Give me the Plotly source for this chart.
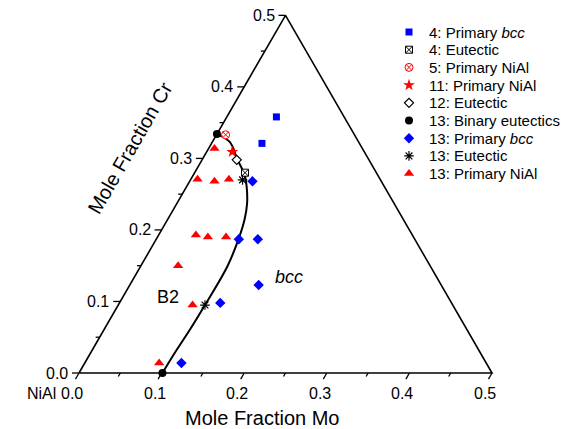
import numpy as np
import plotly.graph_objects as go

# ---------------- data (mole fractions) ----------------
cr_ticks = [0.0, 0.1, 0.2, 0.3, 0.4, 0.5]
cr_minor = [0.05, 0.15, 0.25, 0.35, 0.45]
mo_ticks = [0.0, 0.1, 0.2, 0.3, 0.4, 0.5]
mo_minor = [0.05, 0.15, 0.25, 0.35, 0.45]
tick_labels = ["0.0", "0.1", "0.2", "0.3", "0.4", "0.5"]

# eutectic trough (B2 / bcc boundary)
curve_mo = [0.101, 0.102, 0.104, 0.105, 0.105, 0.099, 0.093, 0.085, 0.073, 0.062, 0.043, 0.021, 0.0]
curve_cr = [0.0, 0.03, 0.06, 0.095, 0.15, 0.19, 0.215, 0.237, 0.26, 0.277, 0.298, 0.323, 0.334]

bcc4_mo = [0.060, 0.061]
bcc4_cr = [0.358, 0.321]
eut4_mo = [0.061]
eut4_cr = [0.280]
nial5_mo = [0.011]
nial5_cr = [0.333]
nial11_mo = [0.031]
nial11_cr = [0.309]
eut12_mo = [0.042]
eut12_cr = [0.298]
bin13_mo = [0.0, 0.101]
bin13_cr = [0.334, 0.0]
bcc13_mo = [0.076, 0.100, 0.123, 0.156, 0.122, 0.117]
bcc13_cr = [0.268, 0.187, 0.187, 0.123, 0.098, 0.014]
eut13_mo = [0.063, 0.105]
eut13_cr = [0.270, 0.095]
nial13_mo = [0.007, 0.008, 0.030, 0.046, 0.045, 0.061, 0.083, 0.045, 0.090, 0.090]
nial13_cr = [0.314, 0.271, 0.268, 0.271, 0.193, 0.190, 0.190, 0.150, 0.095, 0.014]

legend_names = ["4: Primary <i>bcc</i>", "4: Eutectic", "5: Primary NiAl",
                "11: Primary NiAl", "12: Eutectic", "13: Binary eutectics",
                "13: Primary <i>bcc</i>", "13: Eutectic", "13: Primary NiAl"]

# ---------------- styles ----------------
BLUE = "#0000ff"
RED = "#ff0000"
series = [
    dict(mo=bcc4_mo, cr=bcc4_cr, symbol="square", color=BLUE, lc=BLUE, lw=0, size=7),
    dict(mo=eut4_mo, cr=eut4_cr, symbol="square-x", color="white", lc="black", lw=1, size=7),
    dict(mo=nial5_mo, cr=nial5_cr, symbol="circle-x", color="white", lc=RED, lw=1, size=8),
    dict(mo=nial11_mo, cr=nial11_cr, symbol="star", color=RED, lc=RED, lw=0, size=9),
    dict(mo=eut12_mo, cr=eut12_cr, symbol="diamond", color="white", lc="black", lw=1.2, size=7),
    dict(mo=bin13_mo, cr=bin13_cr, symbol="circle", color="black", lc="black", lw=0, size=8),
    dict(mo=bcc13_mo, cr=bcc13_cr, symbol="diamond", color=BLUE, lc=BLUE, lw=0, size=8),
    dict(mo=eut13_mo, cr=eut13_cr, symbol="asterisk-open", color="black", lc="black", lw=1.2, size=8),
    dict(mo=nial13_mo, cr=nial13_cr, symbol="triangle-up", color=RED, lc=RED, lw=0, size=9),
]

S3 = np.sqrt(3) / 2
PXU = 1 / 826.0  # data units per pixel


def tx(mo, cr):
    return np.asarray(mo, float) + np.asarray(cr, float) / 2


def ty(cr):
    return np.asarray(cr, float) * S3


FONT = "Liberation Sans, Arial, sans-serif"
fig = go.Figure()

# triangle frame
fr_mo = [0, 0.5, 0, 0]
fr_cr = [0, 0, 0.5, 0]
fig.add_trace(go.Scatter(x=tx(fr_mo, fr_cr), y=ty(fr_cr), mode="lines",
                         line=dict(color="black", width=1.6), hoverinfo="skip",
                         showlegend=False))

# ticks
tkx, tky = [], []
for vals, L in ((cr_ticks, 7), (cr_minor, 4)):
    for c in vals:
        x0, y0 = float(tx(0, c)), float(ty(c))
        tkx += [x0, x0 - L * PXU, None]
        tky += [y0, y0, None]
for vals, L in ((mo_ticks, 7), (mo_minor, 4)):
    for m in vals:
        x0 = float(tx(m, 0))
        tkx += [x0, x0 - 0.5 * L * PXU, None]
        tky += [0, -S3 * L * PXU, None]
fig.add_trace(go.Scatter(x=tkx, y=tky, mode="lines", line=dict(color="black", width=1.3),
                         hoverinfo="skip", showlegend=False))

# curve
fig.add_trace(go.Scatter(x=tx(curve_mo, curve_cr), y=ty(curve_cr), mode="lines",
                         line=dict(color="black", width=2, shape="spline", smoothing=1.0),
                         hoverinfo="skip", showlegend=False))

# data series + manual legend
for i, (s, name) in enumerate(zip(series, legend_names)):
    mk = dict(symbol=s["symbol"], color=s["color"], size=s["size"],
              line=dict(color=s["lc"], width=s["lw"]))
    fig.add_trace(go.Scatter(x=tx(s["mo"], s["cr"]), y=ty(s["cr"]), mode="markers",
                             marker=mk, name=name, showlegend=False))
    fig.add_trace(go.Scatter(x=[0], y=[i], xaxis="x2", yaxis="y2", mode="markers",
                             marker=mk, showlegend=False, hoverinfo="skip"))
    fig.add_annotation(x=0, y=i, xref="x2", yref="y2", text=name, showarrow=False,
                       xanchor="left", yanchor="middle", xshift=18,
                       font=dict(family=FONT, size=15, color="black"))

ann = []
tf = dict(family=FONT, size=16, color="black")
for c, lab in zip(cr_ticks, tick_labels):
    ann.append(dict(x=float(tx(0, c)), y=float(ty(c)), text=lab, showarrow=False,
                    xanchor="right", yanchor="middle", xshift=-9, font=tf))
for m, lab in zip(mo_ticks, tick_labels):
    ann.append(dict(x=float(tx(m, 0)), y=0, text=lab, showarrow=False,
                    xanchor="center", yanchor="middle", xshift=-7, yshift=-20, font=tf))
ann.append(dict(x=0, y=0, text="NiAl", showarrow=False, xanchor="right", yanchor="middle",
                xshift=-21, yshift=-20, font=tf))
ann.append(dict(x=262 / 569, y=1 - 418 / 429, xref="paper", yref="paper",
                text="Mole Fraction Mo", showarrow=False, xanchor="center", yanchor="middle",
                font=dict(family=FONT, size=20, color="black")))
ann.append(dict(x=130 / 569, y=1 - 148 / 429, xref="paper", yref="paper",
                text="Mole Fraction Cr", showarrow=False, xanchor="center", yanchor="middle",
                textangle=-60, font=dict(family=FONT, size=20, color="black")))
ann.append(dict(x=168 / 569, y=1 - 297 / 429, xref="paper", yref="paper", text="B2",
                showarrow=False, xanchor="center", yanchor="middle",
                font=dict(family=FONT, size=18, color="black")))
ann.append(dict(x=289 / 569, y=1 - 277 / 429, xref="paper", yref="paper", text="<i>bcc</i>",
                showarrow=False, xanchor="center", yanchor="middle",
                font=dict(family=FONT, size=18, color="black")))
for a in ann:
    fig.add_annotation(**a)

ROW0, ROWH = 32.0, 17.7
fig.update_layout(
    width=569, height=429, margin=dict(l=0, r=0, t=0, b=0),
    paper_bgcolor="white", plot_bgcolor="white", showlegend=False,
    font=dict(family=FONT),
    xaxis=dict(range=[-79 * PXU, 490 * PXU], visible=False, domain=[0, 1], fixedrange=True),
    yaxis=dict(range=[-56 * PXU, 373 * PXU], visible=False, domain=[0, 1], fixedrange=True),
    xaxis2=dict(range=[-409, 160], visible=False, overlaying="x", anchor="y2", fixedrange=True),
    yaxis2=dict(range=[(429 - ROW0) / ROWH, -ROW0 / ROWH], visible=False, overlaying="y",
                anchor="x2", fixedrange=True),
)

fig.write_html("out.html")
